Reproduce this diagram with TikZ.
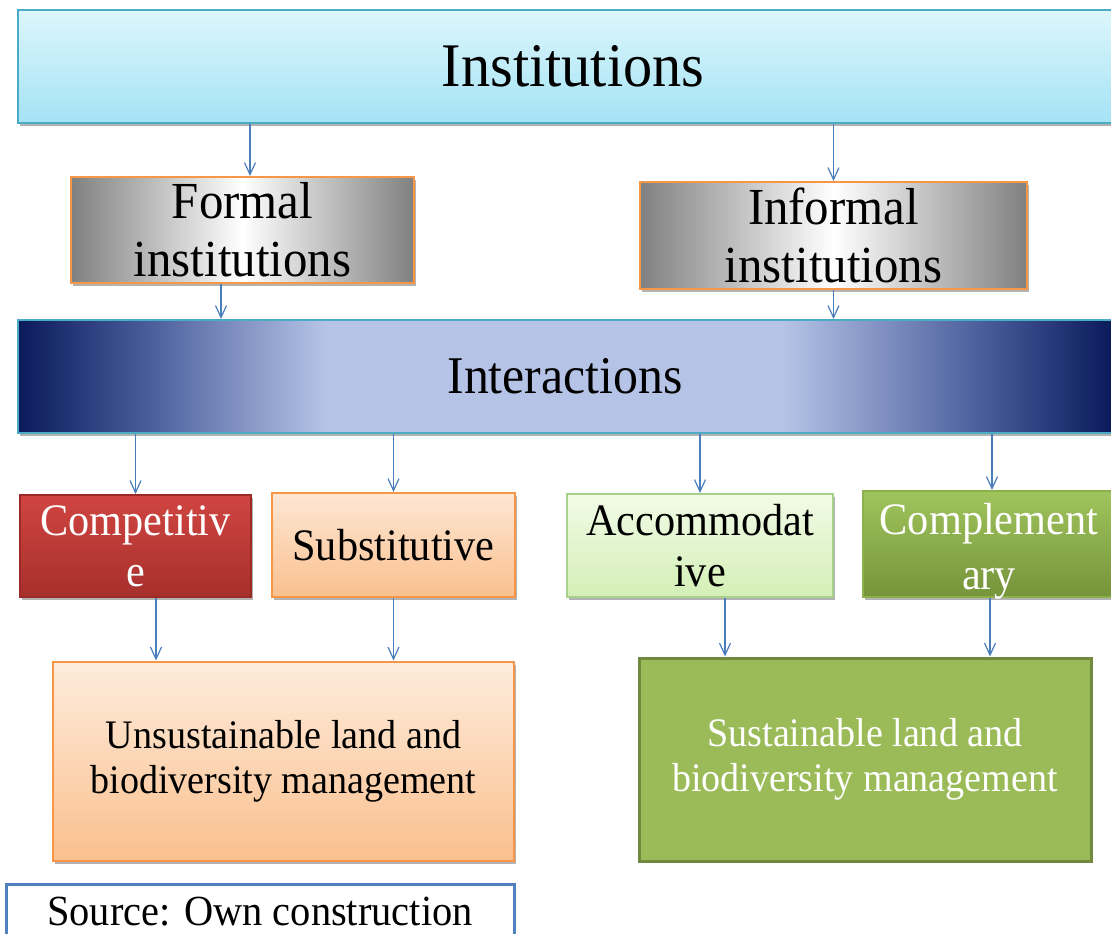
\documentclass[tikz,border=0pt]{standalone}
\usepackage{fontspec}
\setmainfont{Liberation Serif}[FakeStretch=0.94]
\usetikzlibrary{arrows.meta,shadows}

\definecolor{instTop}{HTML}{DDF6FC}
\definecolor{instBot}{HTML}{A4E3F5}
\definecolor{tealLine}{HTML}{4BACC6}
\definecolor{grayEdge}{HTML}{808080}
\definecolor{orangeLine}{HTML}{F79646}
\definecolor{navy}{HTML}{0A1A5A}
\definecolor{navyMid}{HTML}{4A5E9C}
\definecolor{lavender}{HTML}{B5C3E6}
\definecolor{redTop}{HTML}{D04541}
\definecolor{redBot}{HTML}{A72F2C}
\definecolor{redLine}{HTML}{9C2A27}
\definecolor{peachTop}{HTML}{FDE7D4}
\definecolor{peachBot}{HTML}{FBC08E}
\definecolor{mintTop}{HTML}{F1FBE7}
\definecolor{mintBot}{HTML}{D4EFB6}
\definecolor{mintLine}{HTML}{A9D18E}
\definecolor{greenTop}{HTML}{9FC45C}
\definecolor{greenBot}{HTML}{76943B}
\definecolor{greenLine}{HTML}{8CB04A}
\definecolor{olive}{HTML}{9BBB59}
\definecolor{oliveLine}{HTML}{71893F}
\definecolor{blueLine}{HTML}{4F81BD}
\definecolor{arrowBlue}{HTML}{4A7EBB}

% dark rims with a broad light band in the middle
\pgfdeclarehorizontalshading{interactshade}{100bp}{
  color(0bp)=(navy); color(25bp)=(navy); color(31bp)=(navyMid);
  color(39bp)=(lavender); color(60bp)=(lavender);
  color(69bp)=(navyMid); color(75bp)=(navy); color(100bp)=(navy)}

\tikzset{
  box/.style={rectangle, inner sep=0pt, align=center, line width=2pt},
  softshadow/.style={drop shadow={shadow xshift=1.5pt, shadow yshift=-3pt, opacity=0.3, fill=black}},
  arr/.style={draw=arrowBlue, line width=1.2pt, -{Straight Barb[length=12pt,width=11pt]}},
  big/.style={font=\fontsize{62}{62}\selectfont},
  mid/.style={font=\fontsize{52}{58}\selectfont},
  small/.style={font=\fontsize{45}{51}\selectfont},
  body/.style={font=\fontsize{40.5}{45}\selectfont},
}

\begin{document}
\begin{tikzpicture}[x=1pt, y=-1pt]
\useasboundingbox (0,0) rectangle (1111,934);

% top level
\node[box, big, softshadow, draw=tealLine, top color=instTop, bottom color=instBot,
      minimum width=1110pt, minimum height=113pt] (inst) at (573,66.5) {Institutions};

% formal / informal
\node[box, mid, softshadow, draw=orangeLine, left color=grayEdge, right color=grayEdge, middle color=white,
      minimum width=343pt, minimum height=106pt] (formal) at (242.5,230) {Formal\\institutions};
\node[box, mid, softshadow, draw=orangeLine, left color=grayEdge, right color=grayEdge, middle color=white,
      minimum width=387pt, minimum height=107pt] (informal) at (833.5,235.5) {Informal\\institutions};

% interactions band
\node[box, font=\fontsize{53}{53}\selectfont, softshadow, draw=tealLine, shading=interactshade,
      minimum width=1094pt, minimum height=113pt] (inter) at (565,376.5) {Interactions};

% types of interaction
\node[box, small, softshadow, draw=redLine, top color=redTop, bottom color=redBot, text=white,
      minimum width=231pt, minimum height=102pt] (comp) at (135.5,546) {Competitiv\\e};
\node[box, small, softshadow, draw=orangeLine, top color=peachTop, bottom color=peachBot,
      minimum width=243pt, minimum height=104pt] (subs) at (393.5,545) {Substitutive};
\node[box, small, softshadow, draw=mintLine, top color=mintTop, bottom color=mintBot,
      minimum width=266pt, minimum height=103pt] (acc) at (700,545.5) {Accommodat\\ive};
\node[box, small, softshadow, draw=greenLine, top color=greenTop, bottom color=greenBot, text=white,
      minimum width=252pt, minimum height=106pt, text depth=0pt] (compl) at (989,544)
      {Complement\\[-1pt]\raisebox{-5pt}{ary}};

% outcomes
\node[box, body, softshadow, draw=orangeLine, top color=peachTop!80!white, bottom color=peachBot,
      minimum width=461pt, minimum height=199pt] (unsus) at (283.5,761)
      {Unsustainable land and\\biodiversity management};
\node[box, body, draw=oliveLine, line width=3pt, fill=olive, text=white,
      minimum width=452pt, minimum height=203pt] (sus) at (865,759.5)
      {Sustainable land and\\biodiversity management};

% source note
\draw[draw=blueLine, line width=3pt, fill=white] (6,884) rectangle (514,950);
\node[font=\fontsize{43}{43}\selectfont, inner sep=0pt, anchor=base] (src) at (260,925)
      {Source: Own construction};

% connectors
\draw[arr] ([xshift=7.5pt]formal.north |- inst.south) -- ([xshift=7.5pt]formal.north);
\draw[arr] (informal.north |- inst.south) -- (informal.north);
\draw[arr] ([xshift=-21.5pt]formal.south) -- ([xshift=-21.5pt]formal.south |- inter.north);
\draw[arr] (informal.south) -- (informal.south |- inter.north);

\draw[arr] (comp.north |- inter.south) -- (comp.north);
\draw[arr] (subs.north |- inter.south) -- (subs.north);
\draw[arr] (acc.north |- inter.south) -- (acc.north);
\draw[arr] ([xshift=3pt]compl.north |- inter.south) -- ([xshift=3pt]compl.north);

\draw[arr] ([xshift=20.5pt]comp.south) -- ([xshift=20.5pt]comp.south |- unsus.north);
\draw[arr] (subs.south) -- (subs.south |- unsus.north);
\draw[arr] ([xshift=25pt]acc.south) -- ([xshift=25pt]acc.south |- sus.north);
\draw[arr] ([xshift=1pt]compl.south) -- ([xshift=1pt]compl.south |- sus.north);
\end{tikzpicture}
\end{document}
